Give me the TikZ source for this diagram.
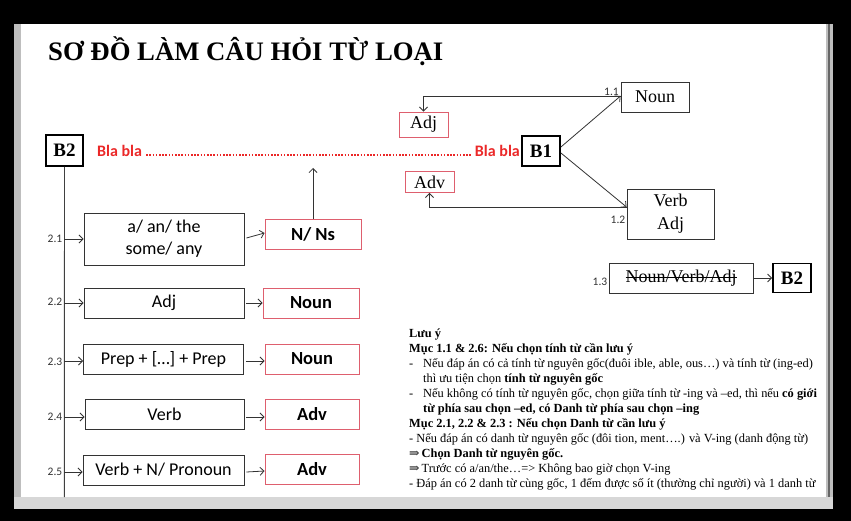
\documentclass[tikz,border=0pt]{standalone}
\usepackage{fontspec}
\setmainfont{Liberation Serif}
\newfontfamily\calfont{Carlito}
\newfontfamily\symfont{DejaVu Serif}
\usetikzlibrary{arrows.meta}
\definecolor{pinkred}{RGB}{222,95,110}
\definecolor{blared}{RGB}{235,40,40}
\definecolor{framegray}{RGB}{190,190,190}
\definecolor{barlight}{RGB}{215,215,215}
\newlength\strklen
\newcommand\mystrike[1]{\settowidth{\strklen}{#1}\rlap{\rule[0.27em]{\strklen}{0.8pt}}#1}
\begin{document}
\begin{tikzpicture}[x=1pt,y=-1pt,
  lbox/.style={draw=black!80, line width=0.9pt, font=\calfont\fontsize{18}{22}\selectfont, inner sep=0pt, align=center},
  rbox/.style={draw=pinkred, line width=0.9pt, font=\calfont\bfseries\fontsize{18.5}{21}\selectfont, inner sep=0pt},
  sbox/.style={draw=black!80, line width=0.9pt, font=\fontsize{18}{23}\selectfont, inner sep=0pt, align=center},
  sredbox/.style={draw=pinkred, line width=0.9pt, font=\fontsize{18}{21}\selectfont, inner sep=0pt},
  bbox/.style={draw=black, line width=1.8pt, font=\bfseries\fontsize{19}{21}\selectfont, inner sep=0pt},
  num/.style={font=\calfont\fontsize{11.5}{13}\selectfont, text=black!80, inner sep=0pt},
  arr/.style={-{Straight Barb[length=4pt,width=8pt]}, line width=0.8pt, draw=black!80},
  txt/.style={anchor=base west, inner sep=0pt, font=\fontsize{12.4}{15}\selectfont},
  btxt/.style={txt, font=\bfseries\fontsize{12.4}{15}\selectfont},
  bla/.style={text=blared, font=\calfont\bfseries\fontsize{16}{18}\selectfont, inner sep=0pt}
]
% screen frame
\fill[black] (0,0) rectangle (851,521);
\fill[framegray] (14,24) rectangle (833,509);
\fill[white] (21,24) rectangle (826,497);
\fill[black!60] (828.3,24) rectangle (830,497);
\fill[barlight] (14,497) rectangle (833,509);
\useasboundingbox (0,0) rectangle (851,521);

% title
\node[anchor=base west, inner sep=0pt, font=\bfseries\fontsize{26.7}{30}\selectfont] (title) at (48,61) {SƠ ĐỒ LÀM CÂU HỎI TỪ LOẠI};

% B2 and red line
\node[bbox, minimum width=37, minimum height=31] (b2) at (64.5,150.5) {B2};
\node[bla, anchor=west] (bl1) at (97,151) {Bla bla};
\node[bla, anchor=east] (bl2) at (520,151) {Bla bla};
\draw[blared, line width=1.6pt, dash pattern=on 1.6pt off 1.6pt] ([xshift=4pt,yshift=-4pt]bl1.east) -- ([xshift=-4pt,yshift=-4pt]bl2.west);
\node[bbox, minimum width=38, minimum height=30] (b1) at (541,151) {B1};

% vertical trunk
\coordinate (vbot) at (64.3,497);
\draw[line width=0.9pt, black!75] (b2.south) -- (vbot);

% row 2.1
\node[lbox, minimum width=160, minimum height=52] (a1) at (164,239) {a/ an/ the\\some/ any};
\node[rbox, minimum width=96, minimum height=30] (n1) at (313,234) {N/ Ns};
\node[num, anchor=east] (l1) at (62.5,239) {2.1};
\draw[arr] (64.3,239) -- (a1.west);
\draw[arr] ([xshift=2pt,yshift=1pt]a1.east) -- ([yshift=1pt]n1.west);
\coordinate (up) at (313,168);
\draw[arr] (n1.north) -- (up);

% row 2.2
\node[lbox, minimum width=160, minimum height=30] (a2) at (164,303) {Adj};
\node[rbox, minimum width=96, minimum height=30] (n2) at (311,303) {Noun};
\node[num, anchor=east] (l2) at (62.5,302) {2.2};
\draw[arr] (64.3,303) -- (a2.west);
\draw[arr] ([xshift=2pt]a2.east) -- (n2.west);

% row 2.3
\node[lbox, minimum width=160, minimum height=30] (a3) at (163.5,359) {Prep + […] + Prep};
\node[rbox, minimum width=94, minimum height=30] (n3) at (312,359) {Noun};
\node[num, anchor=east] (l3) at (62.5,362) {2.3};
\draw[arr] (64.3,361) -- ([yshift=-2pt]a3.west);
\draw[arr] ([xshift=2pt,yshift=-2pt]a3.east) -- ([yshift=-2pt]n3.west);

% row 2.4
\node[lbox, minimum width=159, minimum height=30] (a4) at (164.5,414) {Verb};
\node[rbox, minimum width=94, minimum height=30] (n4) at (312,414) {Adv};
\node[num, anchor=east] (l4) at (62.5,417) {2.4};
\draw[arr] (64.3,417) -- ([yshift=-3pt]a4.west);
\draw[arr] ([xshift=2pt,yshift=-3pt]a4.east) -- ([yshift=-3pt]n4.west);

% row 2.5
\node[lbox, minimum width=161, minimum height=30] (a5) at (163.5,470) {Verb + N/ Pronoun};
\node[rbox, minimum width=94, minimum height=30] (n5) at (312,469) {Adv};
\node[num, anchor=east] (l5) at (62.5,472) {2.5};
\draw[arr] (64.3,472) -- ([yshift=-2pt]a5.west);
\draw[arr] ([xshift=2pt,yshift=-2pt]a5.east) -- ([yshift=-2pt]n5.west);

% right side B1 branches
\node[sbox, minimum width=68, minimum height=30] (noun) at (655,97) {Noun};
\node[sredbox, minimum width=49, minimum height=25] (adj) at (423.5,124.5) {Adj};
\node[sredbox, minimum width=49, minimum height=21] (adv) at (429.5,182) {Adv};
\node[sbox, minimum width=87, minimum height=50] (verb) at (670.5,214) {Verb\\Adj};
\node[num, anchor=east] (l11) at (619,92) {1.1};
\node[num, anchor=east] (l12) at (625.5,220) {1.2};
\draw[arr] ([yshift=4pt]b1.east) -- ([yshift=1pt]noun.west);
\draw[arr] ([yshift=1pt]noun.west) -| (adj.north);
\draw[arr] ([yshift=-2pt]b1.east) -- ([yshift=7pt]verb.west);
\draw[arr] ([yshift=7pt]verb.west) -| (adv.south);

% 1.3
\node[sbox, minimum width=144, minimum height=30] (nva) at (681,278) {\mystrike{Noun/Verb/Adj}};
\node[bbox, minimum width=38, minimum height=29] (b2r) at (792,278) {B2};
\node[num, anchor=east] (l13) at (607.5,282) {1.3};
\draw[arr] (nva.east) -- (b2r.west);

% notes
\node[btxt] (t1) at (409,337) {Lưu ý};
\node[btxt] (t2) at (409,352) {Mục 1.1 \& 2.6: Nếu chọn tính từ cần lưu ý};
\node[txt] (d3) at (409,367) {-};
\node[txt] (t3) at (423,367) {Nếu đáp án có cả tính từ nguyên gốc(đuôi ible, able, ous…) và tính từ (ing-ed)};
\node[txt] (t4) at (423,382) {thì ưu tiện chọn \textbf{tính từ nguyên gốc}};
\node[txt] (d5) at (409,397) {-};
\node[txt] (t5) at (423,397) {Nếu không có tính từ nguyên gốc, chọn giữa tính từ -ing và –ed, thì nếu \textbf{có giới}};
\node[btxt] (t6) at (423,412) {từ phía sau chọn –ed, có Danh từ phía sau chọn –ing};
\node[btxt] (t7) at (409,427) {Mục 2.1, 2.2 \& 2.3 : Nếu chọn Danh từ cần lưu ý};
\node[txt] (t8) at (409,442) {- Nếu đáp án có danh từ nguyên gốc (đôi tion, ment….) và V-ing (danh động từ)};
\node[txt] (t9) at (409,457) {{\symfont ⇒}\,\textbf{Chọn Danh từ nguyên gốc.}};
\node[txt] (t10) at (409,472) {{\symfont ⇒}\,Trước có a/an/the…=> Không bao giờ chọn V-ing};
\node[txt] (t11) at (409,487) {- Đáp án có 2 danh từ cùng gốc, 1 đếm được số ít (thường chỉ người) và 1 danh từ};
\end{tikzpicture}
\end{document}
